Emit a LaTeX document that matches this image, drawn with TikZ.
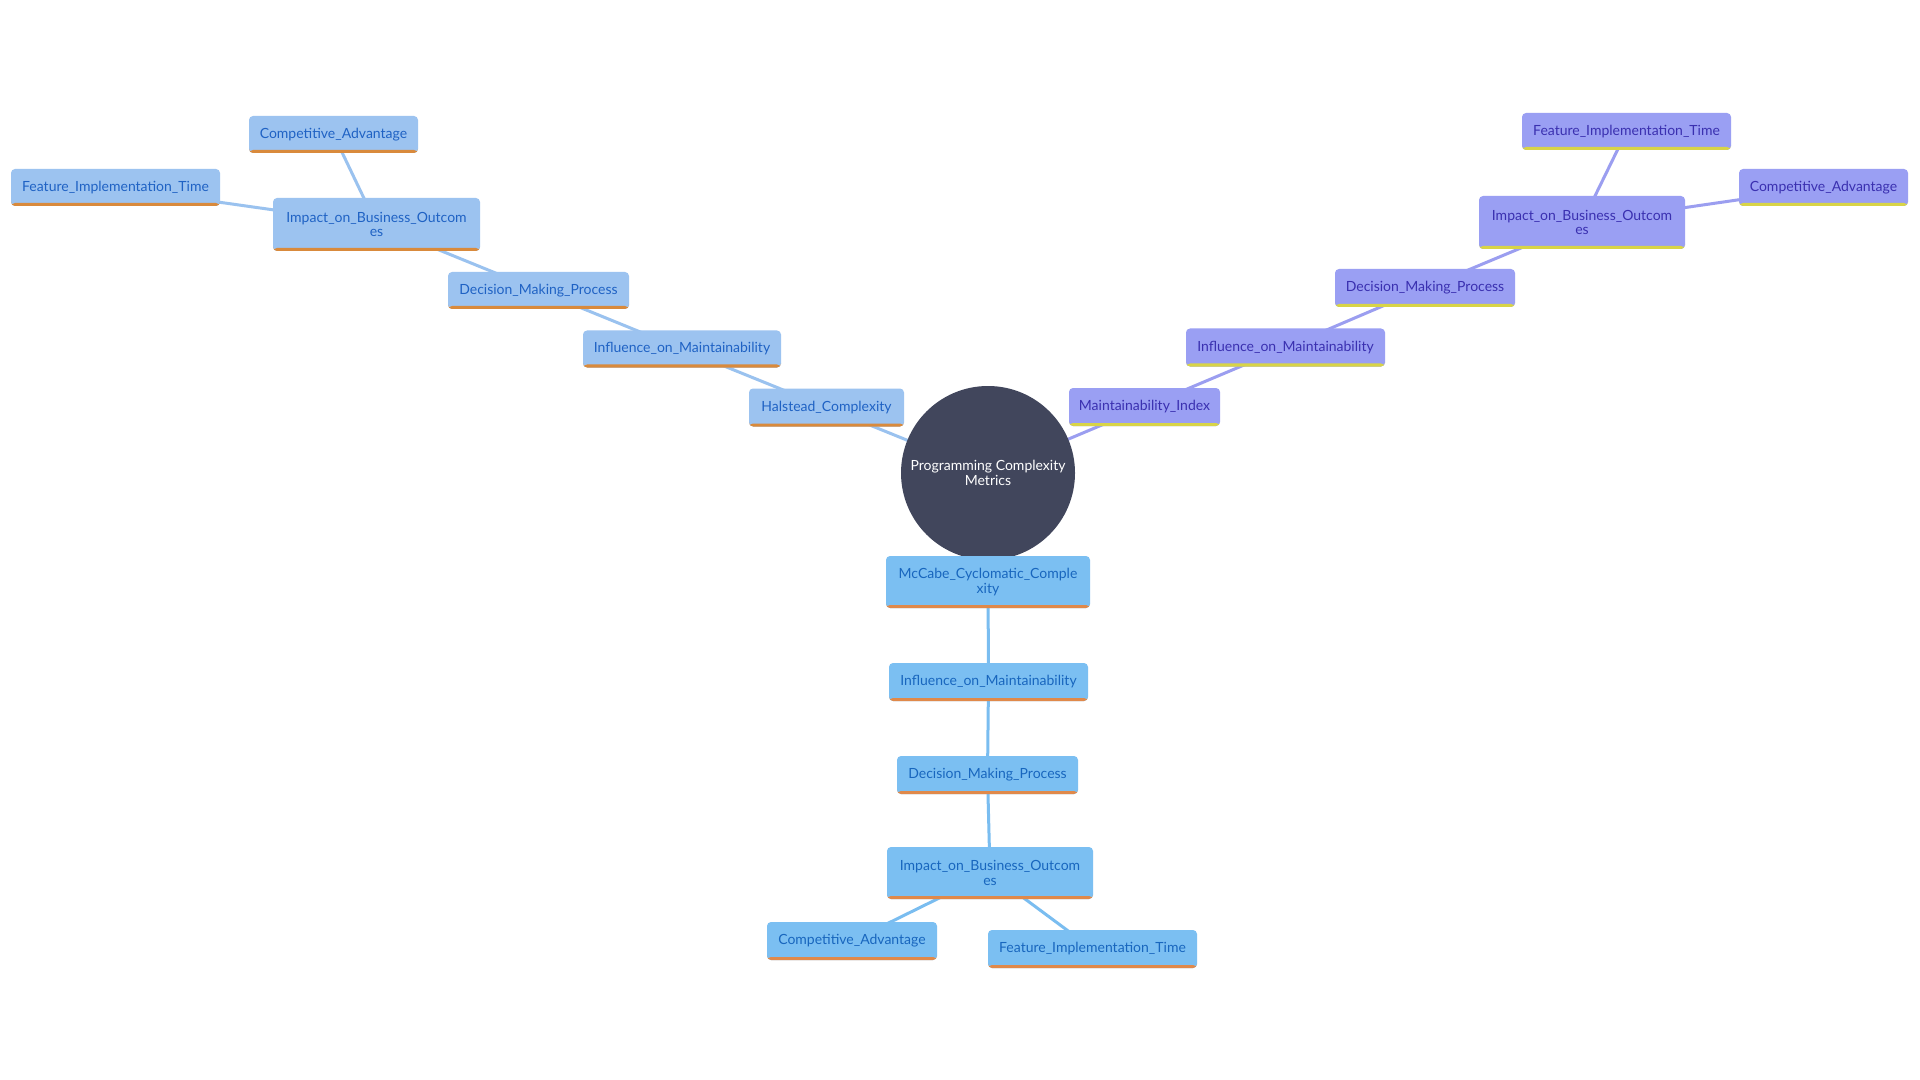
\documentclass[tikz,border=0pt]{standalone}
\usepackage{fontspec}
\setmainfont{Lato}
\usetikzlibrary{backgrounds}
\definecolor{lfill}{HTML}{9CC3F0}
\definecolor{ltext}{HTML}{1F62C4}
\definecolor{lline}{HTML}{D98A3C}
\definecolor{ledge}{HTML}{9AC2EF}
\definecolor{bfill}{HTML}{7BBFF2}
\definecolor{btext}{HTML}{1866BE}
\definecolor{bline}{HTML}{E0894A}
\definecolor{bedge}{HTML}{7ABDF0}
\definecolor{rfill}{HTML}{9A9FF3}
\definecolor{rtext}{HTML}{3A30B0}
\definecolor{rline}{HTML}{D8D447}
\definecolor{redge}{HTML}{9B9EF0}
\definecolor{ctr}{HTML}{41465C}
\tikzset{
  base/.style={rectangle, rounded corners=2pt, inner sep=0pt, align=center,
    font=\fontsize{7}{7.2}\selectfont},
  sz/.style 2 args={minimum width=#1*0.5pt, minimum height=#2*0.5pt},
  lbox/.style={base, fill=lfill, text=ltext,
    path picture={\fill[lline] ([yshift=1.5pt]path picture bounding box.south west) rectangle (path picture bounding box.south east);}},
  bbox/.style={base, fill=bfill, text=btext,
    path picture={\fill[bline] ([yshift=1.5pt]path picture bounding box.south west) rectangle (path picture bounding box.south east);}},
  rbox/.style={base, fill=rfill, text=rtext,
    path picture={\fill[rline] ([yshift=1.5pt]path picture bounding box.south west) rectangle (path picture bounding box.south east);}},
  ledgestyle/.style={draw=ledge, line width=1.5pt},
  bedgestyle/.style={draw=bedge, line width=1.5pt},
  redgestyle/.style={draw=redge, line width=1.5pt},
}
\begin{document}
\begin{tikzpicture}[x=0.5pt,y=-0.5pt]
\useasboundingbox (0,0) rectangle (1920,1080);

\node[circle, fill=ctr, minimum size=87pt, inner sep=0pt, text=white, align=center,
  font=\fontsize{7}{7.2}\selectfont] (c) at (988,473) {Programming Complexity\\Metrics};

% left branch
\node[lbox, sz={169}{37}] (cal) at (333.5,134.5) {Competitive\_Advantage};
\node[lbox, sz={209}{37}] (fitl) at (115.5,187.5) {Feature\_Implementation\_Time};
\node[lbox, sz={207}{53}] (ibl) at (376.5,224.5) {Impact\_on\_Business\_Outcom\\es};
\node[lbox, sz={181}{37}] (dml) at (538.5,290.5) {Decision\_Making\_Process};
\node[lbox, sz={198}{37}] (iml) at (682,349) {Influence\_on\_Maintainability};
\node[lbox, sz={155}{38}] (hal) at (826.5,407.5) {Halstead\_Complexity};

% right branch
\node[rbox, sz={209}{37}] (fitr) at (1626.5,131.5) {Feature\_Implementation\_Time};
\node[rbox, sz={169}{37}] (car) at (1823.5,187.5) {Competitive\_Advantage};
\node[rbox, sz={206}{53}] (ibr) at (1582,222.5) {Impact\_on\_Business\_Outcom\\es};
\node[rbox, sz={180}{38}] (dmr) at (1425,288) {Decision\_Making\_Process};
\node[rbox, sz={199}{38}] (imr) at (1285.5,347.5) {Influence\_on\_Maintainability};
\node[rbox, sz={151}{38}] (mi) at (1144.5,407) {Maintainability\_Index};

% bottom branch
\node[bbox, sz={204}{52}] (mc) at (988,582) {McCabe\_Cyclomatic\_Comple\\xity};
\node[bbox, sz={199}{38}] (imb) at (988.5,682) {Influence\_on\_Maintainability};
\node[bbox, sz={181}{38}] (dmb) at (987.5,775) {Decision\_Making\_Process};
\node[bbox, sz={206}{52}] (ibb) at (990,873) {Impact\_on\_Business\_Outcom\\es};
\node[bbox, sz={170}{38}] (cab) at (852,941) {Competitive\_Advantage};
\node[bbox, sz={209}{38}] (fib) at (1092.5,949) {Feature\_Implementation\_Time};

\begin{scope}[on background layer]
\fill[white] (0,0) rectangle (1920,1080);
\draw[ledgestyle] (c.center) -- (hal.center);
\draw[ledgestyle] (hal.center) -- (iml.center);
\draw[ledgestyle] (iml.center) -- (dml.center);
\draw[ledgestyle] (dml.center) -- (ibl.center);
\draw[ledgestyle] (ibl.center) -- (cal.center);
\draw[ledgestyle] (ibl.center) -- (fitl.center);
\draw[redgestyle] (c.center) -- (mi.center);
\draw[redgestyle] (mi.center) -- (imr.center);
\draw[redgestyle] (imr.center) -- (dmr.center);
\draw[redgestyle] (dmr.center) -- (ibr.center);
\draw[redgestyle] (ibr.center) -- (fitr.center);
\draw[redgestyle] (ibr.center) -- (car.center);
\draw[bedgestyle] (c.center) -- (mc.center);
\draw[bedgestyle] (mc.center) -- (imb.center);
\draw[bedgestyle] (imb.center) -- (dmb.center);
\draw[bedgestyle] (dmb.center) -- (ibb.center);
\draw[bedgestyle] (ibb.center) -- (cab.center);
\draw[bedgestyle] (ibb.center) -- (fib.center);
\end{scope}
\end{tikzpicture}
\end{document}
